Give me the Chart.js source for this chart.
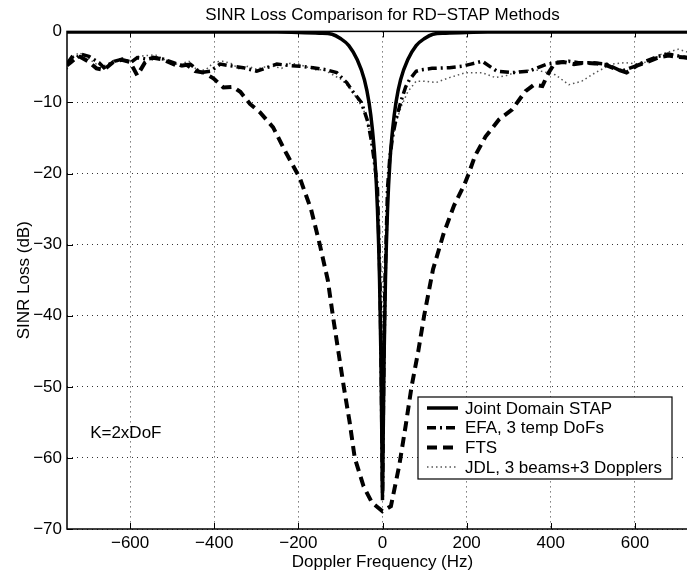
<!DOCTYPE html>
<html>
<head>
<meta charset="utf-8">
<script src="https://cdn.jsdelivr.net/npm/chart.js@4.4.1/dist/chart.umd.min.js"></script>
<style>
html, body { margin: 0; padding: 0; background: #fff; overflow: hidden; }
#wrap { position: absolute; left: 0; top: 0; width: 730px; height: 574px; }
</style>
</head>
<body>
<div id="wrap"><canvas id="chart" width="730" height="574"></canvas></div>
<script>
// Doppler frequency (Hz) and SINR loss (dB) for each method
var jointFreq = [-750, -500, -250, -200, -150, -120, -100, -80, -60, -43, -32, -24, -18, -12, -7, -4, -2, 0,
                 2, 4, 7, 12, 18, 24, 32, 43, 60, 80, 100, 120, 150, 200, 250, 500, 750];
var jointLoss = [-0.1, -0.1, -0.1, -0.15, -0.25, -0.4, -1, -2, -4, -6.8, -10, -13.8, -18, -25, -35, -45, -55, -65,
                 -55, -45, -35, -25, -18, -13.8, -10, -6.8, -4, -2, -1, -0.4, -0.25, -0.15, -0.1, -0.1, -0.1];

var efaFreq = [-750, -741, -717, -698, -674, -662, -638, -618, -599, -583, -560, -544, -520, -497, -476, -457,
               -433, -409, -386, -355, -331, -299, -275, -251, -220, -196, -165, -133, -109, -85, -70, -50,
               -35, -26, -19, -12, -6, -3, 0, 3, 6, 12, 17, 24, 32, 44, 55, 64, 80, 92, 118, 159, 189, 210,
               237, 272, 308, 348, 391, 419, 443, 466, 497, 533, 568, 601, 625, 656, 679, 707, 730, 750];
var efaLoss = [-4.8, -4.4, -3.2, -3.5, -4.4, -5.1, -4.2, -3.9, -4.4, -3.7, -3.9, -3.7, -3.9, -4.4, -4.9, -4.6,
               -5.8, -5.6, -4.6, -4.9, -5.1, -5.6, -5.1, -4.6, -4.8, -4.9, -5.1, -5.4, -5.8, -7.2, -8.5, -10,
               -12.7, -15.5, -18.5, -22, -35, -48, -66, -48, -35, -22, -18, -14.8, -12.4, -9.8, -7.8, -6.8, -5.6, -5.4, -5.2, -5.1, -4.9, -4.6,
               -4.2, -5.6, -5.8, -5.6, -4.6, -4.4, -4.2, -4.4, -4.4, -4.6, -5.6, -4.9, -4.2, -3.5, -3.2, -3.5, -3.8, -3.4];

var ftsFreq = [-750, -735, -718, -700, -680, -662, -640, -620, -600, -583, -565, -545, -525, -505, -485, -465,
               -445, -425, -402, -378, -355, -338, -315, -291, -260, -230, -196, -170, -149, -130, -118, -105,
               -92, -78, -66, -45, -25, 0, 20, 40, 55, 69, 85, 99, 120, 145, 170, 195, 205, 220, 245, 277,
               308, 340, 360, 380, 395, 410, 430, 455, 480, 505, 530, 555, 580, 605, 630, 655, 680, 705, 730, 750];
var ftsLoss = [-4.6, -3.4, -3.6, -4.2, -5.2, -5.4, -4.3, -4.0, -4.3, -6.2, -4.4, -3.7, -3.9, -4.4, -4.9, -4.7,
               -5.6, -5.8, -6.6, -7.9, -7.8, -8.5, -10.2, -11.4, -13.5, -17, -20.7, -25, -30, -35, -40, -45,
               -50, -55, -60, -64, -66.3, -67.5, -66.8, -61, -55.5, -50, -45, -40, -33.5, -28.5, -24.5, -21.5, -20, -17.5, -14.8, -12.4,
               -11, -8.4, -7.5, -7.7, -5.8, -4.4, -4.3, -4.6, -4.4, -4.5, -4.7, -5.3, -5.8, -4.8, -4.3, -3.7, -3.4, -3.6, -3.7, -3.5];

var jdlFreq = [-750, -735, -720, -700, -680, -660, -640, -620, -600, -580, -560, -540, -520, -500, -480, -460,
               -440, -420, -400, -380, -360, -340, -320, -300, -280, -260, -240, -220, -200, -180, -160, -140,
               -118, -97, -80, -60, -45, -35, -25, -18, -12, -6, -3, 0, 3, 6, 12, 17, 24, 32, 45, 60, 80, 100,
               127, 159, 198, 237, 268, 295, 324, 364, 411, 443, 474, 506, 545, 576, 608, 640, 663, 703, 730, 750];
var jdlLoss = [-5.3, -3.5, -3.0, -3.8, -4.6, -4.8, -4.4, -4.0, -4.2, -3.5, -3.4, -3.3, -3.9, -4.6, -4.6, -4.2,
               -5.5, -5.4, -4.3, -4.2, -4.5, -5.3, -4.9, -5.3, -5.0, -4.9, -5.2, -4.5, -4.6, -5.0, -5.4, -5.4,
               -6.1, -6.8, -7.8, -9.5, -11, -13, -15.5, -18.5, -22, -35, -48, -66, -48, -35, -22, -18, -15, -12.8, -10.5, -8.5, -7.0, -7.0,
               -7.2, -6.5, -5.8, -5.8, -6.5, -6.2, -5.6, -5.4, -6.1, -7.5, -7.0, -5.8, -4.6, -4.4, -4.6, -4.1, -3.2, -2.5, -3.0, -2.8];

var xTicks = [-600, -400, -200, 0, 200, 400, 600];
var FONT = "'Liberation Sans', Arial, Helvetica, sans-serif";

function toPoints(freq, loss) {
    return freq.map(function (f, i) { return { x: f, y: loss[i] }; });
}

function minusSign(v) {
    return String(v).replace('-', '\u2212');
}

// MATLAB-style frame, inward ticks, annotation and legend
var matlabDecor = {
    id: 'matlabDecor',
    afterDatasetsDraw: function (chart) {
        var ctx = chart.ctx;
        var a = chart.chartArea;
        var xs = chart.scales.x;
        var ys = chart.scales.y;
        ctx.save();
        ctx.strokeStyle = '#000';
        ctx.lineWidth = 1.5;
        ctx.setLineDash([]);
        ctx.strokeRect(a.left, a.top, a.right - a.left, a.bottom - a.top);

        ctx.lineWidth = 1;
        ctx.beginPath();
        xTicks.forEach(function (v) {
            var px = Math.round(xs.getPixelForValue(v)) + 0.5;
            ctx.moveTo(px, a.bottom); ctx.lineTo(px, a.bottom - 6);
            ctx.moveTo(px, a.top); ctx.lineTo(px, a.top + 6);
        });
        ys.ticks.forEach(function (t) {
            var py = Math.round(ys.getPixelForValue(t.value)) + 0.5;
            ctx.moveTo(a.left, py); ctx.lineTo(a.left + 6, py);
        });
        ctx.stroke();

        ctx.fillStyle = '#000';
        ctx.font = '17px ' + FONT;
        ctx.textAlign = 'left';
        ctx.textBaseline = 'middle';
        ctx.fillText('K=2xDoF', xs.getPixelForValue(-695), ys.getPixelForValue(-56.5));

        // legend box
        var bx = 418, by = 397, bw = 254, bh = 82, row = 19.7;
        ctx.fillStyle = '#fff';
        ctx.fillRect(bx, by, bw, bh);
        ctx.lineWidth = 1.2;
        ctx.strokeStyle = '#000';
        ctx.strokeRect(bx, by, bw, bh);
        chart.data.datasets.forEach(function (ds, i) {
            var cy = by + 11 + i * row;
            ctx.save();
            ctx.strokeStyle = ds.borderColor;
            ctx.lineWidth = ds.borderWidth;
            ctx.setLineDash(ds.borderDash || []);
            ctx.beginPath();
            ctx.moveTo(bx + 9, cy);
            ctx.lineTo(bx + 40, cy);
            ctx.stroke();
            ctx.restore();
            ctx.fillStyle = '#000';
            ctx.fillText(ds.label, bx + 47, cy + 1);
        });
        ctx.restore();
    }
};

var chart = new Chart(document.getElementById('chart').getContext('2d'), {
    type: 'line',
    data: {
        datasets: [{
            label: 'Joint Domain STAP',
            data: toPoints(jointFreq, jointLoss),
            borderColor: '#000',
            borderWidth: 3.5,
            cubicInterpolationMode: 'monotone',
            order: 1
        }, {
            label: 'EFA, 3 temp DoFs',
            data: toPoints(efaFreq, efaLoss),
            borderColor: '#000',
            borderWidth: 3.5,
            borderDash: [9, 4, 2, 4],
            order: 2
        }, {
            label: 'FTS',
            data: toPoints(ftsFreq, ftsLoss),
            borderColor: '#000',
            borderWidth: 4,
            borderDash: [10, 6],
            order: 3
        }, {
            label: 'JDL, 3 beams+3 Dopplers',
            data: toPoints(jdlFreq, jdlLoss),
            borderColor: '#555',
            borderWidth: 1.5,
            borderDash: [1.5, 3],
            order: 4
        }]
    },
    options: {
        responsive: false,
        animation: false,
        elements: { point: { radius: 0 }, line: { fill: false, tension: 0 } },
        layout: { padding: { left: 0, right: 32, top: 0, bottom: 0 } },
        plugins: {
            legend: { display: false },
            tooltip: { enabled: false },
            title: {
                display: true,
                fullSize: false,
                text: 'SINR Loss Comparison for RD\u2212STAP Methods',
                color: '#000',
                font: { family: FONT, size: 17, weight: 'normal' },
                padding: { top: 5, bottom: 6 }
            }
        },
        scales: {
            x: {
                type: 'linear',
                min: -750,
                max: 750,
                afterBuildTicks: function (s) {
                    s.ticks = xTicks.map(function (v) { return { value: v }; });
                },
                afterFit: function (s) { s.height = 45; },
                ticks: {
                    color: '#000',
                    font: { family: FONT, size: 17 },
                    padding: 4,
                    maxRotation: 0,
                    callback: minusSign
                },
                grid: { color: '#000', lineWidth: 0.8, drawTicks: false },
                border: { display: false, dash: [1, 4] },
                title: {
                    display: true,
                    text: 'Doppler Frequency (Hz)',
                    color: '#000',
                    font: { family: FONT, size: 17 },
                    padding: { top: 0, bottom: 1 }
                }
            },
            y: {
                type: 'linear',
                min: -70,
                max: 0,
                afterFit: function (s) { s.width = 67; },
                ticks: {
                    stepSize: 10,
                    color: '#000',
                    font: { family: FONT, size: 17 },
                    padding: 5,
                    callback: minusSign
                },
                grid: { color: '#000', lineWidth: 0.8, drawTicks: false },
                border: { display: false, dash: [1, 4] },
                title: {
                    display: true,
                    text: 'SINR Loss (dB)',
                    color: '#000',
                    font: { family: FONT, size: 17 },
                    padding: { top: 14, bottom: 0 }
                }
            }
        }
    },
    plugins: [matlabDecor]
});
</script>
</body>
</html>
